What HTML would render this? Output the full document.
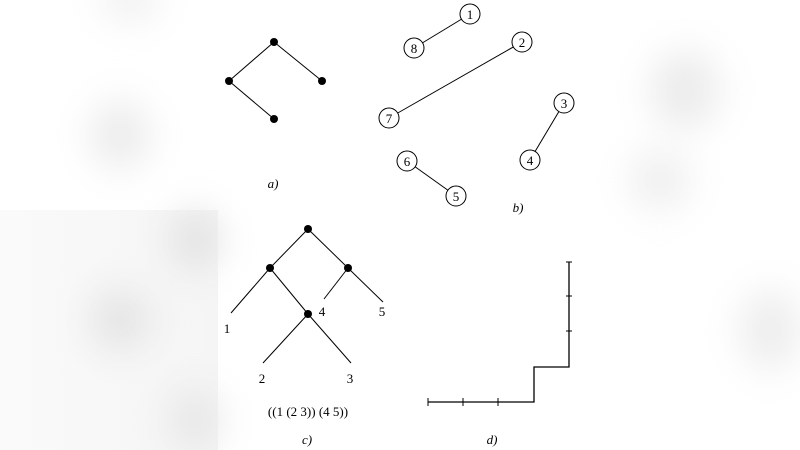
<!DOCTYPE html>
<html><head><style>
body{margin:0;width:800px;height:450px;overflow:hidden;background:#fff;position:relative}
.blob{position:absolute;border-radius:50%;filter:blur(18px)}
svg{position:absolute;left:0;top:0}
</style></head><body>
<div style="position:absolute;left:0;top:210px;width:218px;height:240px;background:linear-gradient(to right,#fafafa,#f5f5f5)"></div>
<div class="blob" style="left:90px;top:100px;width:60px;height:70px;background:#ececec"></div>
<div class="blob" style="left:170px;top:210px;width:50px;height:60px;background:#e2e2e2"></div>
<div class="blob" style="left:90px;top:290px;width:60px;height:60px;background:#e4e4e4"></div>
<div class="blob" style="left:170px;top:390px;width:50px;height:60px;background:#e6e6e6"></div>
<div class="blob" style="left:650px;top:50px;width:70px;height:80px;background:#ececec"></div>
<div class="blob" style="left:630px;top:150px;width:60px;height:60px;background:#efefef"></div>
<div class="blob" style="left:740px;top:290px;width:60px;height:80px;background:#ededed"></div>
<div class="blob" style="left:100px;top:-20px;width:60px;height:40px;background:#efefef"></div>
<svg width="800" height="450" viewBox="0 0 800 450" font-family="Liberation Serif, serif" font-size="13">
<g stroke="#000" stroke-width="1" fill="none">
<line x1="274" y1="42" x2="229" y2="81"/><line x1="274" y1="42" x2="322" y2="81"/><line x1="229" y1="81" x2="274" y2="119"/>
<line x1="470" y1="14" x2="414" y2="48"/><line x1="522" y1="42" x2="389" y2="118"/><line x1="564" y1="103" x2="530" y2="160"/><line x1="407" y1="161" x2="456" y2="196"/>
<line x1="308" y1="229" x2="270" y2="268"/><line x1="308" y1="229" x2="348" y2="268"/>
<line x1="270" y1="268" x2="231" y2="313"/><line x1="270" y1="268" x2="308" y2="314"/>
<line x1="348" y1="268" x2="324" y2="299"/><line x1="348" y1="268" x2="383" y2="302"/>
<line x1="308" y1="314" x2="263" y2="363"/><line x1="308" y1="314" x2="351" y2="363"/>
<polyline points="428,402 534,402 534,367 569,367 569,262" stroke-width="1.3"/>
<line x1="428" y1="398" x2="428" y2="406"/><line x1="463" y1="398" x2="463" y2="406"/><line x1="498" y1="398" x2="498" y2="406"/>
<line x1="566" y1="262" x2="572" y2="262"/><line x1="566" y1="296" x2="572" y2="296"/><line x1="566" y1="331" x2="572" y2="331"/>
</g>
<g fill="#000">
<circle cx="274" cy="42" r="4"/><circle cx="229" cy="81" r="4"/><circle cx="322" cy="81" r="4"/><circle cx="274" cy="119" r="4"/>
<circle cx="308" cy="229" r="4"/><circle cx="270" cy="268" r="4"/><circle cx="348" cy="268" r="4"/><circle cx="308" cy="314" r="4"/>
</g>
<g fill="#fff" stroke="#000" stroke-width="1">
<circle cx="470" cy="14" r="10"/><circle cx="414" cy="48" r="10"/><circle cx="522" cy="42" r="10"/><circle cx="389" cy="118" r="10"/>
<circle cx="564" cy="103" r="10"/><circle cx="530" cy="160" r="10"/><circle cx="407" cy="161" r="10"/><circle cx="456" cy="196" r="10"/>
</g>
<g text-anchor="middle" fill="#000">
<text x="470" y="19">1</text><text x="414" y="53">8</text><text x="522" y="47">2</text><text x="389" y="123">7</text>
<text x="564" y="108">3</text><text x="530" y="165">4</text><text x="407" y="166">6</text><text x="456" y="201">5</text>
<text x="227" y="333">1</text><text x="322" y="316">4</text><text x="382" y="316">5</text><text x="262" y="383">2</text><text x="350" y="383">3</text>
<text x="308" y="416">((1 (2 3)) (4 5))</text>
<text x="273" y="188" font-style="italic">a)</text>
<text x="518" y="212" font-style="italic">b)</text>
<text x="307" y="444" font-style="italic">c)</text>
<text x="492" y="444" font-style="italic">d)</text>
</g>
</svg>
</body></html>
